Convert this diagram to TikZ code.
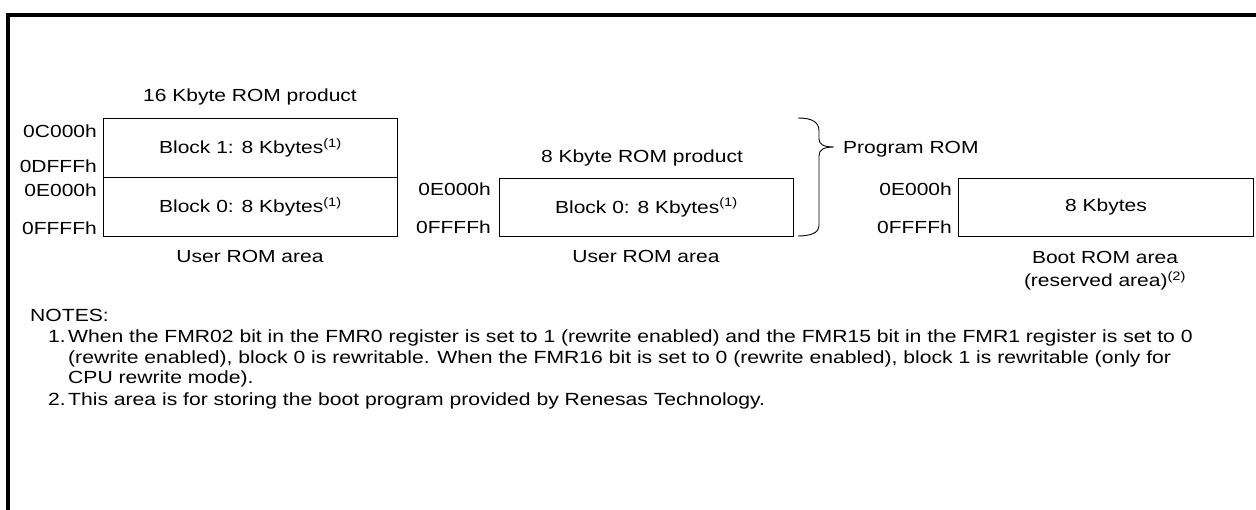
\documentclass[tikz,border=0pt]{standalone}
\usepackage{fontspec}
\setmainfont{Liberation Sans}[FakeStretch=1.2]
\begin{document}
\begin{tikzpicture}[x=1pt,y=-1pt,
  font=\fontsize{17.5pt}{21pt}\selectfont,
  cell/.style={draw, line width=0.9pt, minimum width=294pt, minimum height=59pt, inner sep=0pt, anchor=north west},
  addr/.style={anchor=base east, inner sep=0pt},
  lbl/.style={anchor=base, inner sep=0pt},
  lblw/.style={anchor=base west, inner sep=0pt},
  note/.style={anchor=base west, inner sep=0pt, font=\fontsize{17.6pt}{21pt}\selectfont},
  frame/.style={line width=3.8pt},
  bracepath/.style={line width=0.9pt}]
\useasboundingbox (0,0) rectangle (1256,510);
% outer frame (top and left)
\draw[frame] (8,510) -- (8,15) -- (1256,15);

% 16 Kbyte ROM product
\node[lbl] (t1) at (250,102) {16 Kbyte ROM product};
\node[cell] (b1) at (103,118) {Block 1: 8 Kbytes\textsuperscript{(1)}};
\node[cell] (b0) at (103,177) {Block 0: 8 Kbytes\textsuperscript{(1)}};
\node[addr] (a1) at (97,138) {0C000h};
\node[addr] (a2) at (97,173) {0DFFFh};
\node[addr] (a3) at (97,197) {0E000h};
\node[addr] (a4) at (97,235) {0FFFFh};
\node[lbl] (u1) at (250,263) {User ROM area};

% 8 Kbyte ROM product
\node[lbl] (t2) at (642,163) {8 Kbyte ROM product};
\node[cell, minimum height=58pt] (c0) at (499,178) {Block 0: 8 Kbytes\textsuperscript{(1)}};
\node[addr] (a5) at (491,196) {0E000h};
\node[addr] (a6) at (491,234) {0FFFFh};
\node[lbl] (u2) at (646,263) {User ROM area};

% brace
\coordinate (bt) at (798,118);
\coordinate (bb) at (798,236);
\coordinate (tip) at (834,147);
\draw[bracepath] (bt) .. controls (812,118) and (819,122) .. (819,131) -- (819,139)
  .. controls (819,144) and (823,147) .. (tip)
  .. controls (823,147) and (819,150) .. (819,156) -- (819,226)
  .. controls (819,232) and (812,236) .. (bb);
\node[lblw] (pr) at (843,154) {Program ROM};

% boot ROM
\node[cell, minimum width=295pt, minimum height=58pt] (bo) at (958,178) {8 Kbytes};
\node[addr] (a7) at (952,196) {0E000h};
\node[addr] (a8) at (952,234) {0FFFFh};
\node[lbl, align=center, font=\fontsize{17.5pt}{23pt}\selectfont] (u3) at (1105,287) {Boot ROM area\\(reserved area)\textsuperscript{(2)}};

% notes
\node[note] (nt) at (30,322) {NOTES:};
\node[note] (n1) at (48,343) {1.};
\node[note] (n1a) at (68,343) {When the FMR02 bit in the FMR0 register is set to 1 (rewrite enabled) and the FMR15 bit in the FMR1 register is set to 0};
\node[note] (n1b) at (68,364) {(rewrite enabled), block 0 is rewritable. When the FMR16 bit is set to 0 (rewrite enabled), block 1 is rewritable (only for};
\node[note] (n1c) at (68,384) {CPU rewrite mode).};
\node[note] (n2) at (48,406) {2.};
\node[note] (n2t) at (68,406) {This area is for storing the boot program provided by Renesas Technology.};
\end{tikzpicture}
\end{document}
